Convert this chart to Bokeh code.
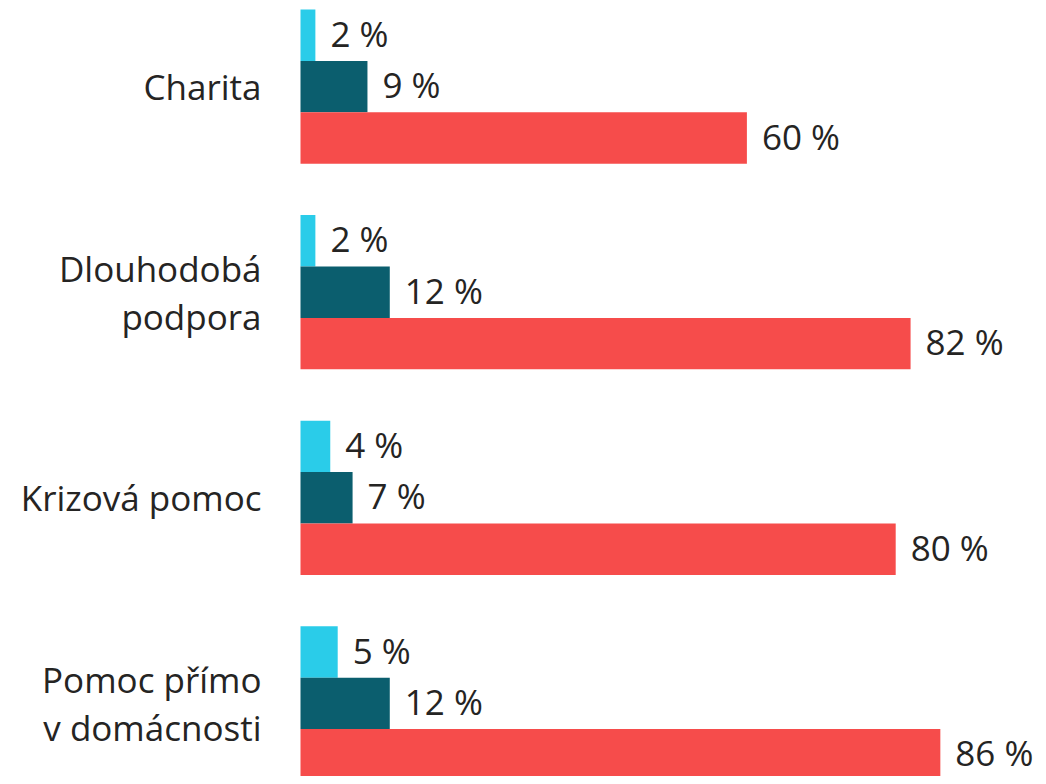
from bokeh.plotting import figure
from bokeh.models import Range1d, ColumnDataSource
from bokeh.core.properties import value
from bokeh.embed import file_html
from bokeh.resources import INLINE

categories = ["Charita", "Dlouhodobá\npodpora", "Krizová pomoc", "Pomoc přímo\nv domácnosti"]
series_a = [2, 2, 4, 5]      # light blue
series_b = [9, 12, 7, 12]    # dark teal
series_c = [60, 82, 80, 86]  # red
colors = ["#2ACCE9", "#0B5E6E", "#F64C4B"]
label_texts_a = ["2 %", "2 %", "4 %", "5 %"]
label_texts_b = ["9 %", "12 %", "7 %", "12 %"]
label_texts_c = ["60 %", "82 %", "80 %", "86 %"]

W, H = 1038, 776
px_per_unit = 7.44
left_px = 300
band_px = 205.6
top_px = 9
line_px = 48

x_start = -left_px / px_per_unit
x_end = (W - left_px) / px_per_unit
y_top = -top_px / band_px
y_bottom = (H - top_px) / band_px

p = figure(width=W, height=H, output_backend="svg", toolbar_location=None,
           x_range=Range1d(x_start, x_end), y_range=Range1d(y_bottom, y_top),
           min_border=0, min_border_left=0, min_border_right=0,
           min_border_top=0, min_border_bottom=0)
p.axis.visible = False
p.grid.visible = False
p.outline_line_color = None
p.background_fill_color = "white"
p.border_fill_color = "white"

font = value("Open Sans")
text_color = "#252423"
bar_h = 0.25

series = [series_a, series_b, series_c]
labels = [label_texts_a, label_texts_b, label_texts_c]
for j, (vals, labs) in enumerate(zip(series, labels)):
    ys = [i + bar_h / 2 + j * bar_h for i in range(len(categories))]
    src = ColumnDataSource(dict(y=ys, right=vals, lab=labs))
    p.hbar(y="y", left=0, right="right", height=bar_h, source=src,
           fill_color=colors[j], line_color=None)
    p.text(x="right", y="y", text="lab", source=src, x_offset=15, y_offset=-2,
           text_align="left", text_baseline="middle", text_font=font,
           text_font_size="35px", text_color=text_color)

# category labels, one glyph per line
lx, ly, lt = [], [], []
for i, cat in enumerate(categories):
    lines = cat.split("\n")
    n = len(lines)
    for k, ln in enumerate(lines):
        lx.append(0)
        ly.append(i + 0.375 + (k - (n - 1) / 2) * line_px / band_px)
        lt.append(ln)
cat_src = ColumnDataSource(dict(x=lx, y=ly, t=lt))
p.text(x="x", y="y", text="t", source=cat_src, x_offset=-39, text_align="right",
       text_baseline="middle", text_font=font, text_font_size="35px",
       text_color=text_color)

open("out.html", "w").write(file_html(p, INLINE))
